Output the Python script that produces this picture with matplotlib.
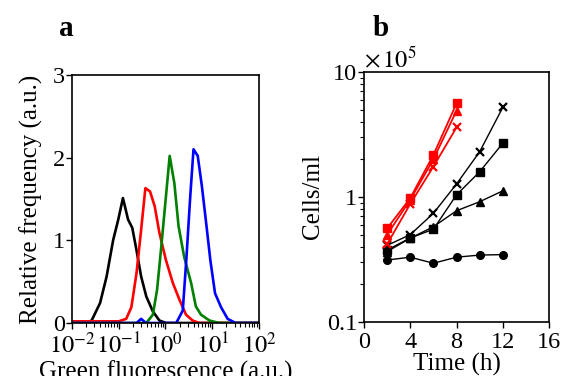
import numpy as np
import matplotlib
matplotlib.use("Agg")
import matplotlib.pyplot as plt
from matplotlib.ticker import LogLocator, FixedLocator, NullFormatter, FixedFormatter

plt.rcParams["font.family"] = ["Liberation Serif", "DejaVu Serif"]
plt.rcParams["mathtext.fontset"] = "stix"

# ---------------- panel a: histograms (log10 of fluorescence, frequency) ----------------
black_x = [-2.0, -1.7, -1.58, -1.40, -1.26, -1.12, -1.01, -0.91, -0.80, -0.71, -0.62,
           -0.52, -0.41, -0.27, -0.13, 0.01, 2.0]
black_y = [0, 0, 0.03, 0.24, 0.56, 1.00, 1.25, 1.51, 1.25, 1.15, 0.88,
           0.56, 0.32, 0.14, 0.03, 0, 0]

red_x = [-2.0, -1.0, -0.84, -0.73, -0.62, -0.52, -0.43, -0.33, -0.23, -0.13, 0.01,
         0.16, 0.30, 0.44, 0.58, 0.72, 2.0]
red_y = [0.02, 0.02, 0.05, 0.19, 0.60, 1.13, 1.63, 1.59, 1.41, 1.09, 0.76,
         0.48, 0.28, 0.10, 0.03, 0, 0]

green_x = [-2.0, -0.41, -0.27, -0.18, -0.09, 0.01, 0.09, 0.19, 0.28, 0.40, 0.55,
           0.65, 0.76, 0.94, 1.15, 2.0]
green_y = [0, 0, 0.10, 0.40, 0.92, 1.53, 2.02, 1.69, 1.17, 0.80, 0.48,
           0.20, 0.10, 0.03, 0, 0]

blue_x = [-2.0, -0.62, -0.52, -0.42, 0.23, 0.37, 0.45, 0.53, 0.60, 0.69, 0.78,
          0.87, 0.96, 1.06, 1.19, 1.33, 1.50, 2.0]
blue_y = [0, 0, 0.05, 0, 0, 0.15, 0.80, 1.53, 2.10, 2.02, 1.65,
          1.21, 0.76, 0.36, 0.19, 0.05, 0, 0]

# ---------------- panel b: growth curves (x10^5 cells/ml) ----------------
t_black = [2, 4, 6, 8, 10, 12]
circ_black = [0.313, 0.33, 0.295, 0.33, 0.343, 0.346]
tri_black = [0.366, 0.468, 0.578, 0.776, 0.916, 1.12]
sq_black = [0.377, 0.47, 0.552, 1.04, 1.59, 2.69]
x_black = [0.41, 0.50, 0.74, 1.27, 2.30, 5.2]

t_red = [2, 4, 6, 8]
sq_red = [0.56, 0.98, 2.17, 5.6]
tri_red = [0.50, 0.95, 2.00, 4.9]
x_red = [0.42, 0.88, 1.75, 3.6]

FS = 17.5
LFS = 18

fig = plt.figure(figsize=(5.7, 3.76), dpi=100)

# ---------------- panel a ----------------
ax1 = fig.add_axes([0.1263, 0.141, 0.328, 0.660])
for xs, ys, c in [(black_x, black_y, "black"), (red_x, red_y, "red"),
                  (green_x, green_y, "green"), (blue_x, blue_y, "blue")]:
    ax1.plot(10 ** np.array(xs), ys, color=c, lw=1.9)
ax1.set_xscale("log")
ax1.set_xlim(1e-2, 1e2)
ax1.set_ylim(0, 3)
ax1.set_yticks([0, 1, 2, 3])
ax1.xaxis.set_major_locator(FixedLocator([1e-2, 1e-1, 1e0, 1e1, 1e2]))
ax1.xaxis.set_major_formatter(FixedFormatter([r"$10^{-2}$", r"$10^{-1}$", r"$10^{0}$",
                                              r"$10^{1}$", r"$10^{2}$"]))
ax1.xaxis.set_minor_locator(LogLocator(base=10, subs=np.arange(2, 10), numticks=20))
ax1.xaxis.set_minor_formatter(NullFormatter())
ax1.tick_params(axis="both", which="major", labelsize=FS, length=4, width=1, pad=1)
ax1.tick_params(axis="x", which="major", pad=3)
ax1.tick_params(axis="x", which="minor", length=3, width=0.8)
ax1.set_ylabel("Relative frequency (a.u.)", fontsize=LFS, labelpad=7)
ax1.set_xlabel("Green fluorescence (a.u.)", fontsize=LFS, labelpad=1.5)
for s in ax1.spines.values():
    s.set_linewidth(1.2)
fig.text(0.117, 0.925, "a", fontsize=21, fontweight="bold", ha="center", va="center")

# ---------------- panel b ----------------
ax2 = fig.add_axes([0.6386, 0.1436, 0.3246, 0.665])
mk = dict(color="black", lw=1, markersize=5.5)
ax2.plot(t_black, circ_black, marker="o", **mk)
ax2.plot(t_black, tri_black, marker="^", **mk)
ax2.plot(t_black, sq_black, marker="s", **mk)
ax2.plot(t_black, x_black, marker="x", markeredgewidth=1.6, **mk)
mr = dict(color="red", lw=1.3, markersize=6)
ax2.plot(t_red, sq_red, marker="s", **mr)
ax2.plot(t_red, tri_red, marker="^", **mr)
ax2.plot(t_red, x_red, marker="x", markeredgewidth=1.6, **mr)
ax2.set_yscale("log")
ax2.set_ylim(0.1, 10)
ax2.set_xlim(0, 16)
ax2.set_xticks([0, 4, 8, 12, 16])
ax2.yaxis.set_major_locator(FixedLocator([0.1, 1, 10]))
ax2.yaxis.set_major_formatter(FixedFormatter(["0.1", "1", "10"]))
ax2.yaxis.set_minor_locator(LogLocator(base=10, subs=np.arange(2, 10), numticks=10))
ax2.yaxis.set_minor_formatter(NullFormatter())
ax2.tick_params(axis="both", which="major", labelsize=FS, length=4, width=1, pad=1)
ax2.tick_params(axis="x", which="major", pad=3)
ax2.tick_params(axis="y", which="minor", length=3, width=0.8)
ax2.set_ylabel("Cells/ml", fontsize=LFS, labelpad=2)
ax2.set_xlabel("Time (h)", fontsize=LFS, labelpad=0)
for s in ax2.spines.values():
    s.set_linewidth(1.2)
ax2.text(0.0, 1.0, r"$\times\,10^5$", transform=ax2.transAxes, fontsize=FS,
         ha="left", va="bottom")
fig.text(0.668, 0.925, "b", fontsize=21, fontweight="bold", ha="center", va="center")

fig.savefig("out.png", dpi=100)
